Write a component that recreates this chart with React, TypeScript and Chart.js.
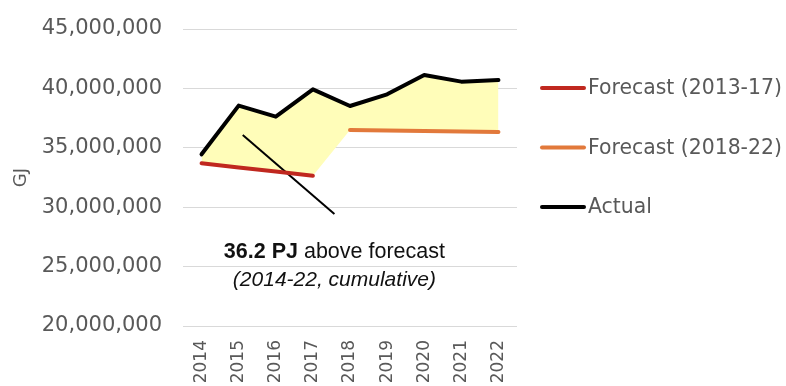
import React, { useEffect, useRef } from "react";
import { Chart, registerables } from "chart.js";

Chart.register(...registerables);

// ---- data ----
const years = ["2014", "2015", "2016", "2017", "2018", "2019", "2020", "2021", "2022"];
const forecast2013 = [33_700_000, 33_350_000, 33_000_000, 32_650_000, null, null, null, null, null];
const forecast2018 = [null, null, null, null, 36_500_000, 36_460_000, 36_420_000, 36_380_000, 36_330_000];
const actual = [34_450_000, 38_550_000, 37_620_000, 39_920_000, 38_520_000, 39_500_000, 41_130_000, 40_570_000, 40_710_000];

const yMin = 20_000_000;
const yMax = 45_000_000;
const yStep = 5_000_000;

// pointer line from the shaded gap down to the note (x in category units)
const pointerX = [1.11, 3.58];
const pointerY = [36_080_000, 29_430_000];

const noteBold = "36.2 PJ";
const noteRest = " above forecast";
const noteSub = "(2014-22, cumulative)";

const legendNames = ["Forecast (2013-17)", "Forecast (2018-22)", "Actual"];

// ---- styles ----
const RED = "#C0281F";
const ORANGE = "#E2793B";
const BLACK = "#000000";
const FILL = "#FFFDB9";
const GREY_TEXT = "#595959";
const GRID = "#D9D9D9";
const AXIS_FONT = "'DejaVu Sans', sans-serif";
const NOTE_FONT = "'Liberation Sans', Arial, sans-serif";

// combined forecast line, used only as the lower edge of the shaded gap
const forecastEdge = years.map((_, i) => forecast2013[i] ?? forecast2018[i]);

const sideLegend = {
  id: "sideLegend",
  afterDraw(chart: any) {
    const { ctx, chartArea } = chart;
    const colors = [RED, ORANGE, BLACK];
    const x0 = chartArea.right + 24;
    ctx.save();
    ctx.font = `20.4px ${AXIS_FONT}`;
    ctx.textBaseline = "middle";
    ctx.textAlign = "left";
    legendNames.forEach((name, i) => {
      const y = 88 + i * 59.5;
      ctx.strokeStyle = colors[i];
      ctx.lineWidth = 4;
      ctx.lineCap = "round";
      ctx.beginPath();
      ctx.moveTo(x0 + 1, y);
      ctx.lineTo(x0 + 43, y);
      ctx.stroke();
      ctx.fillStyle = GREY_TEXT;
      ctx.fillText(name, x0 + 47, y + 1);
    });
    ctx.restore();
  },
};

const gapNote = {
  id: "gapNote",
  afterDraw(chart: any) {
    const { ctx } = chart;
    const xs = chart.scales.x2;
    const ys = chart.scales.y;
    const cx = xs.getPixelForValue(pointerX[1]);
    const y1 = ys.getPixelForValue(26_250_000);
    const y2 = ys.getPixelForValue(23_870_000);
    ctx.save();
    ctx.fillStyle = "#111111";
    ctx.textBaseline = "middle";
    ctx.textAlign = "left";
    const boldFont = `bold 21.5px ${NOTE_FONT}`;
    const regFont = `21.5px ${NOTE_FONT}`;
    ctx.font = boldFont;
    const wb = ctx.measureText(noteBold).width;
    ctx.font = regFont;
    const wr = ctx.measureText(noteRest).width;
    const start = cx - (wb + wr) / 2;
    ctx.font = boldFont;
    ctx.fillText(noteBold, start, y1);
    ctx.font = regFont;
    ctx.fillText(noteRest, start + wb, y1);
    ctx.font = `italic 21px ${NOTE_FONT}`;
    ctx.textAlign = "center";
    ctx.fillText(noteSub, cx, y2);
    ctx.restore();
  },
};

export default function App() {
  const canvasRef = useRef<HTMLCanvasElement | null>(null);

  useEffect(() => {
    document.body.style.margin = "0";
    const canvas = canvasRef.current;
    if (!canvas) return;

    const lineStyle = {
      pointRadius: 0,
      pointHoverRadius: 0,
      borderWidth: 4,
      borderJoinStyle: "round" as const,
      borderCapStyle: "round" as const,
      tension: 0,
      spanGaps: false,
    };

    const chart = new Chart(canvas, {
      type: "line",
      data: {
        labels: years,
        datasets: [
          { label: legendNames[0], data: forecast2013, borderColor: RED, fill: false, ...lineStyle },
          { label: legendNames[1], data: forecast2018, borderColor: ORANGE, fill: false, ...lineStyle },
          {
            label: legendNames[2],
            data: actual,
            borderColor: BLACK,
            backgroundColor: FILL,
            fill: { target: 3 },
            ...lineStyle,
          },
          {
            label: "forecast edge",
            data: forecastEdge,
            borderWidth: 0,
            borderColor: "rgba(0,0,0,0)",
            pointRadius: 0,
            fill: false,
          },
          {
            label: "pointer",
            data: pointerX.map((x, i) => ({ x, y: pointerY[i] })),
            xAxisID: "x2",
            borderColor: BLACK,
            borderWidth: 2,
            pointRadius: 0,
            fill: false,
          },
        ],
      },
      options: {
        animation: false,
        responsive: true,
        maintainAspectRatio: false,
        layout: { padding: { top: 29, right: 269, left: 0, bottom: 0 } },
        plugins: {
          legend: { display: false },
          tooltip: { enabled: false },
          filler: { drawTime: "beforeDatasetsDraw" },
        },
        scales: {
          x: {
            type: "category",
            offset: true,
            grid: { display: false, drawTicks: false },
            border: { display: false },
            ticks: {
              color: GREY_TEXT,
              font: { family: AXIS_FONT, size: 17 },
              minRotation: 90,
              maxRotation: 90,
              padding: 14,
            },
            afterFit: (s: any) => {
              s.height = 60;
            },
          },
          x2: {
            type: "linear",
            display: false,
            min: -0.5,
            max: years.length - 0.5,
          },
          y: {
            min: yMin,
            max: yMax,
            grid: { color: GRID, lineWidth: 1, drawTicks: false },
            border: { display: false },
            ticks: {
              stepSize: yStep,
              color: GREY_TEXT,
              font: { family: AXIS_FONT, size: 21 },
              padding: 21,
              callback: (v: any) => Number(v).toLocaleString("en-US"),
            },
            title: {
              display: true,
              text: "GJ",
              color: GREY_TEXT,
              font: { family: AXIS_FONT, size: 18 },
              padding: { top: 11, bottom: 0 },
            },
            afterFit: (s: any) => {
              s.width = 183;
              s.paddingTop = 13;
              s.paddingBottom = 13;
            },
          },
        },
      },
      plugins: [sideLegend, gapNote],
    });

    return () => chart.destroy();
  }, []);

  return (
    <div style={{ position: "relative", width: 786, height: 386 }}>
      <canvas ref={canvasRef} />
    </div>
  );
}
